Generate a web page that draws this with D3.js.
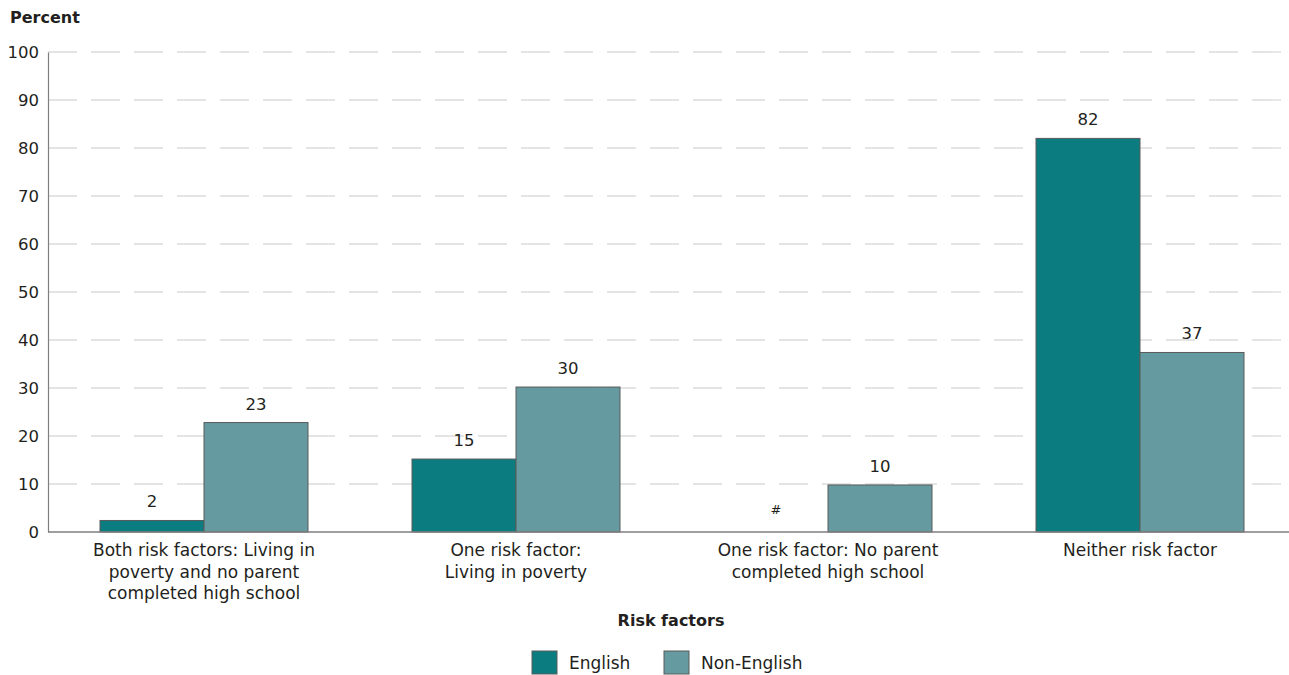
<!DOCTYPE html>
<html>
<head>
<meta charset="utf-8">
<script src="https://cdn.jsdelivr.net/npm/d3@7"></script>
<style>
  html, body { margin: 0; padding: 0; background: #fff; }
  svg { display: block; }
  text { font-family: "DejaVu Sans", sans-serif; fill: #231f20; }
</style>
</head>
<body>
<svg id="chart" width="1289" height="675"></svg>
<script>
const categories = [
  ["Both risk factors: Living in", "poverty and no parent", "completed high school"],
  ["One risk factor:", "Living in poverty"],
  ["One risk factor: No parent", "completed high school"],
  ["Neither risk factor"]
];
const seriesNames = ["English", "Non-English"];
const englishValues = [2.4, 15.2, 0, 82];
const englishLabels = ["2", "15", "#", "82"];
const nonEnglishValues = [22.8, 30.2, 9.8, 37.4];
const nonEnglishLabels = ["23", "30", "10", "37"];
const yTicks = [0, 10, 20, 30, 40, 50, 60, 70, 80, 90, 100];
const colors = ["#0b7c7f", "#659aa0"];

const svg = d3.select("#chart");
const W = 1289;
const mLeft = 48, mRight = 1296, mTop = 52, mBottom = 532;

const x = d3.scaleBand().domain(d3.range(categories.length)).range([mLeft, mRight])
  .paddingInner(1/3).paddingOuter(1/6);
const xs = d3.scaleBand().domain(seriesNames).range([0, x.bandwidth()]);
const y = d3.scaleLinear().domain([0, 100]).range([mBottom, mTop]);

// gridlines
svg.append("g").selectAll("line").data(yTicks.filter(d => d > 0)).join("line")
  .attr("x1", mLeft).attr("x2", W)
  .attr("y1", d => y(d)).attr("y2", d => y(d))
  .attr("stroke", "#dcdcdc").attr("stroke-width", 1.3)
  .attr("stroke-dasharray", "29,14");

// y axis
const yAxis = svg.append("g").attr("transform", `translate(${mLeft},0)`)
  .call(d3.axisLeft(y).tickValues(yTicks).tickSize(0).tickPadding(9));
yAxis.select(".domain").attr("stroke", "#7f7f7f").attr("stroke-width", 1.2);
yAxis.selectAll("text").style("font-size", "16.5px").attr("fill", "#231f20")
  .style("font-family", '"DejaVu Sans", sans-serif');

const data = categories.map((c, i) => ({
  i,
  vals: [
    { s: seriesNames[0], v: englishValues[i], l: englishLabels[i] },
    { s: seriesNames[1], v: nonEnglishValues[i], l: nonEnglishLabels[i] }
  ]
}));

const g = svg.append("g").selectAll("g").data(data).join("g")
  .attr("transform", d => `translate(${x(d.i)},0)`);

g.selectAll("rect").data(d => d.vals.filter(v => v.v > 0)).join("rect")
  .attr("x", d => xs(d.s)).attr("width", xs.bandwidth())
  .attr("y", d => y(d.v)).attr("height", d => y(0) - y(d.v))
  .attr("fill", d => colors[seriesNames.indexOf(d.s)])
  .attr("stroke", "#5a5a5a").attr("stroke-width", 1);

g.selectAll("text.val").data(d => d.vals).join("text").attr("class", "val")
  .attr("x", d => xs(d.s) + xs.bandwidth() / 2)
  .attr("y", d => d.l === "#" ? y(d.v) - 18 : y(d.v) - 13)
  .attr("text-anchor", "middle")
  .style("font-size", d => d.l === "#" ? "13px" : "16.5px")
  .text(d => d.l);

// x axis line
svg.append("line").attr("x1", mLeft).attr("x2", W).attr("y1", mBottom).attr("y2", mBottom)
  .attr("stroke", "#7f7f7f").attr("stroke-width", 1.5);

// category labels
svg.append("g").selectAll("text").data(data).join("text")
  .attr("text-anchor", "middle")
  .attr("x", d => x(d.i) + x.bandwidth() / 2)
  .attr("y", 556)
  .style("font-size", "17px")
  .selectAll("tspan").data(d => categories[d.i]).join("tspan")
  .attr("x", function() { return d3.select(this.parentNode).attr("x"); })
  .attr("dy", (d, k) => k === 0 ? 0 : 21.5)
  .text(d => d);

// titles
svg.append("text").attr("x", 10).attr("y", 23).style("font-size", "16px")
  .style("font-weight", "bold").text("Percent");
svg.append("text").attr("x", 671).attr("y", 626).attr("text-anchor", "middle")
  .style("font-size", "16px").style("font-weight", "bold").text("Risk factors");

// legend
const legendX = [532, 664];
const lg = svg.append("g").selectAll("g").data(seriesNames).join("g")
  .attr("transform", (d, i) => `translate(${legendX[i]},651)`);
lg.append("rect").attr("width", 25).attr("height", 23)
  .attr("fill", (d, i) => colors[i]).attr("stroke", "#5a5a5a").attr("stroke-width", 1);
lg.append("text").attr("x", 37).attr("y", 18).style("font-size", "17px").text(d => d);
</script>
</body>
</html>
